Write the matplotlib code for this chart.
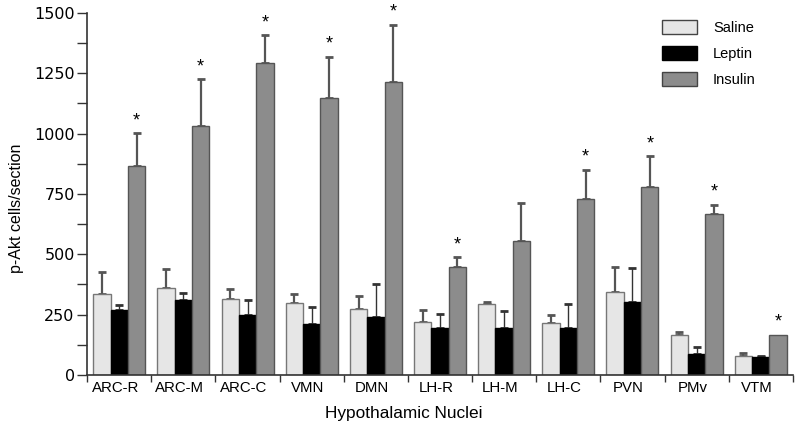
import numpy as np
import matplotlib.pyplot as plt
from matplotlib.patches import Patch
from matplotlib.ticker import MultipleLocator

plt.rcParams['font.family'] = ['Liberation Sans', 'DejaVu Sans']

# Data (p-Akt cells/section)
nuclei = ['ARC-R', 'ARC-M', 'ARC-C', 'VMN', 'DMN', 'LH-R', 'LH-M', 'LH-C', 'PVN', 'PMv', 'VTM']
saline = [337, 359, 315, 300, 272, 221, 293, 214, 342, 164, 77]
saline_err = [91, 79, 41, 35, 57, 48, 11, 35, 107, 13, 15]
leptin = [268, 312, 249, 211, 240, 196, 196, 196, 304, 87, 73]
leptin_err = [21, 28, 60, 69, 136, 57, 70, 99, 138, 28, 6]
insulin = [866, 1033, 1294, 1147, 1214, 446, 555, 728, 777, 665, 166]
insulin_err = [135, 192, 113, 172, 237, 42, 159, 121, 129, 39, 0]
insulin_sig = [True, True, True, True, True, True, False, True, True, True, True]

fig = plt.figure(figsize=(8, 4.3), dpi=100)
ax = fig.add_axes([0.109, 0.128, 0.882, 0.842])

x = np.arange(len(nuclei))
w = 0.27

series = [
    (saline, saline_err, -w, '#e6e6e6', '#777777', '#555555', 1.6, 'Saline'),
    (leptin, leptin_err, 0, '#000000', '#000000', '#333333', 1.0, 'Leptin'),
    (insulin, insulin_err, w, '#8c8c8c', '#555555', '#555555', 1.6, 'Insulin'),
]

handles = []
for vals, errs, off, fc, ec, errc, elw, lab in series:
    ax.bar(x + off, vals, w, color=fc, edgecolor=ec, linewidth=1.0, zorder=2)
    errs = np.array(errs, dtype=float)
    m = errs > 0
    ax.errorbar((x + off)[m], np.array(vals)[m], yerr=[np.zeros(m.sum()), errs[m]],
                fmt='none', ecolor=errc, elinewidth=elw, capsize=3, capthick=2, zorder=1)
    handles.append(Patch(facecolor=fc, edgecolor='#444444' if lab != 'Leptin' else '#000000',
                         linewidth=1.0, label=lab))

# significance stars above insulin bars
for i in range(len(nuclei)):
    if insulin_sig[i]:
        ax.annotate('*', (x[i] + w, insulin[i] + insulin_err[i]), xytext=(0, 3),
                    textcoords='offset points', ha='center', va='bottom', fontsize=13)

ax.set_xlim(-0.5, len(nuclei) - 0.5)
ax.set_ylim(0, 1500)
ax.set_xticks(x - 0.06)
ax.set_xticklabels(nuclei, fontsize=10.8)
ax.set_xticks(np.arange(-0.5, len(nuclei), 1), minor=True)
ax.tick_params(axis='x', which='major', length=0, pad=4)
ax.tick_params(axis='x', which='minor', length=5, width=1, color='#333333')
ax.yaxis.set_major_locator(MultipleLocator(250))
ax.yaxis.set_minor_locator(MultipleLocator(125))
ax.tick_params(axis='y', which='both', length=7, width=1, color='#333333', pad=2)
for t in ax.get_yticklabels():
    t.set_fontfamily('DejaVu Sans')
    t.set_fontsize(11.5)

for s in ['top', 'right']:
    ax.spines[s].set_visible(False)
for s in ['left', 'bottom']:
    ax.spines[s].set_color('#333333')
    ax.spines[s].set_linewidth(1.2)

ax.set_ylabel('p-Akt cells/section', fontsize=11.5)
ax.yaxis.set_label_coords(-0.089, 0.459)
ax.set_xlabel('Hypothalamic Nuclei', fontsize=12.4)
ax.xaxis.set_label_coords(0.449, -0.086)

fig.legend(handles=handles, loc='upper left', bbox_to_anchor=(662 / 800, 1 - 20 / 430),
           frameon=False, fontsize=10.5, handlelength=2.4, handleheight=1.1,
           labelspacing=0.77, handletextpad=1.1, borderpad=0, borderaxespad=0)

fig.savefig('out.png', dpi=100)
